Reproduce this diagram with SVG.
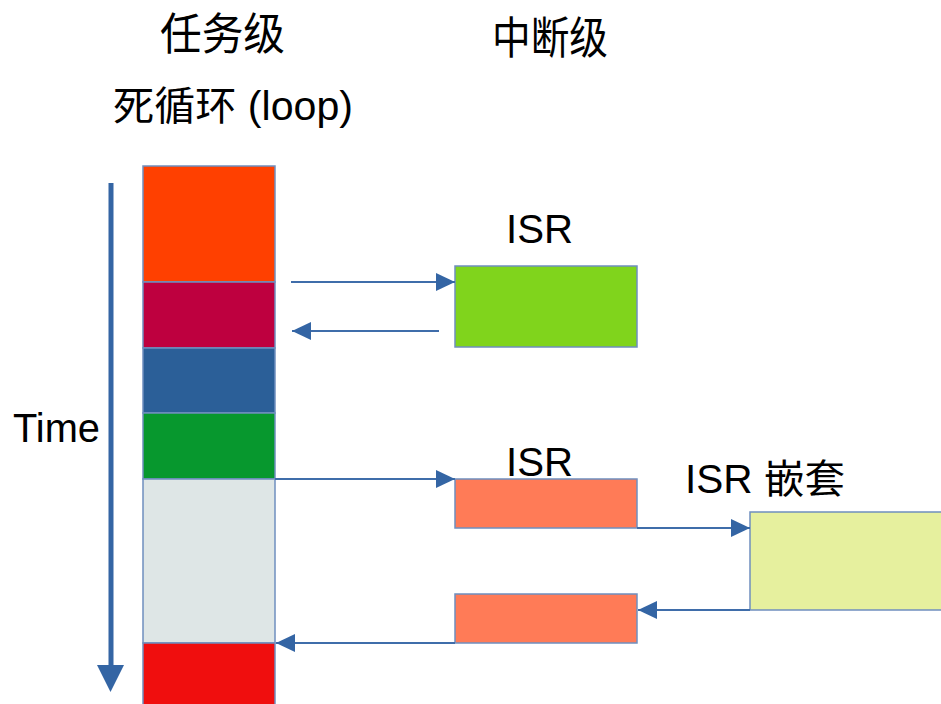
<svg xmlns="http://www.w3.org/2000/svg" width="941" height="704" viewBox="0 0 941 704">
<style>
.t{font-family:"Liberation Sans","Noto Sans CJK SC",sans-serif;font-size:40px;fill:#000}
.c{font-family:"Noto Sans CJK SC","Liberation Sans",sans-serif;font-size:44px;fill:#000}
.seg{stroke:#6F8FBF;stroke-width:1.5}
.box{stroke:#6F8FBF;stroke-width:1.5}
.ln{stroke:#3F6DAA;stroke-width:2;fill:none}
</style>
<defs>
<marker id="ah" markerWidth="20" markerHeight="18" refX="19" refY="9" orient="auto" markerUnits="userSpaceOnUse">
<path d="M0,0 L19,9 L0,18 Z" fill="#3465A4"/>
</marker>
</defs>
<rect width="941" height="704" fill="#fff"/>
<g id="labels">
<text class="c" x="160" y="50" textLength="125" lengthAdjust="spacingAndGlyphs">任务级</text>
<text class="c" x="492" y="54" textLength="116" lengthAdjust="spacingAndGlyphs">中断级</text>
<text class="t" x="113" y="120" font-size="42" textLength="240" lengthAdjust="spacingAndGlyphs">死循环 (loop)</text>
<text class="t" x="13" y="442" textLength="87" lengthAdjust="spacingAndGlyphs">Time</text>
</g>
<g id="task-column">
<rect class="seg" x="143" y="166" width="132" height="116" fill="#FF4000"/>
<rect class="seg" x="143" y="282" width="132" height="66" fill="#BE003F"/>
<rect class="seg" x="143" y="348" width="132" height="65" fill="#2B5F98"/>
<rect class="seg" x="143" y="413" width="132" height="66" fill="#07982E"/>
<rect class="seg" x="143" y="479" width="132" height="164" fill="#DEE6E6"/>
<rect class="seg" x="143" y="643" width="132" height="70" fill="#F00E0E"/>
</g>
<g id="isr1">
<rect class="box" x="455" y="266" width="182" height="81" fill="#80D41C"/>
<text class="t" x="506" y="243" textLength="67" lengthAdjust="spacingAndGlyphs">ISR</text>
</g>
<g id="isr2">
<rect class="box" x="455" y="479" width="182" height="49" fill="#FF7B57"/>
<text class="t" x="506" y="476" textLength="67" lengthAdjust="spacingAndGlyphs">ISR</text>
</g>
<g id="isr2-return">
<rect class="box" x="455" y="594" width="182" height="49" fill="#FF7B57"/>
</g>
<g id="isr-nested">
<rect class="box" x="750" y="512" width="200" height="98" fill="#E6F09E"/>
<text class="t" x="685" y="493" textLength="160" lengthAdjust="spacingAndGlyphs">ISR 嵌套</text>
</g>
<g id="connectors">
<line x1="111" y1="183" x2="111" y2="666" stroke="#3465A4" stroke-width="5"/>
<path d="M97,665 L124,665 L110.5,692 Z" fill="#3465A4"/>
<line class="ln" x1="291" y1="282" x2="455" y2="282" marker-end="url(#ah)"/>
<line class="ln" x1="439" y1="331" x2="292" y2="331" marker-end="url(#ah)"/>
<line class="ln" x1="275" y1="479" x2="455" y2="479" marker-end="url(#ah)"/>
<line class="ln" x1="637" y1="528" x2="750" y2="528" marker-end="url(#ah)"/>
<line class="ln" x1="750" y1="610" x2="638" y2="610" marker-end="url(#ah)"/>
<line class="ln" x1="455" y1="643" x2="276" y2="643" marker-end="url(#ah)"/>
</g>
</svg>
